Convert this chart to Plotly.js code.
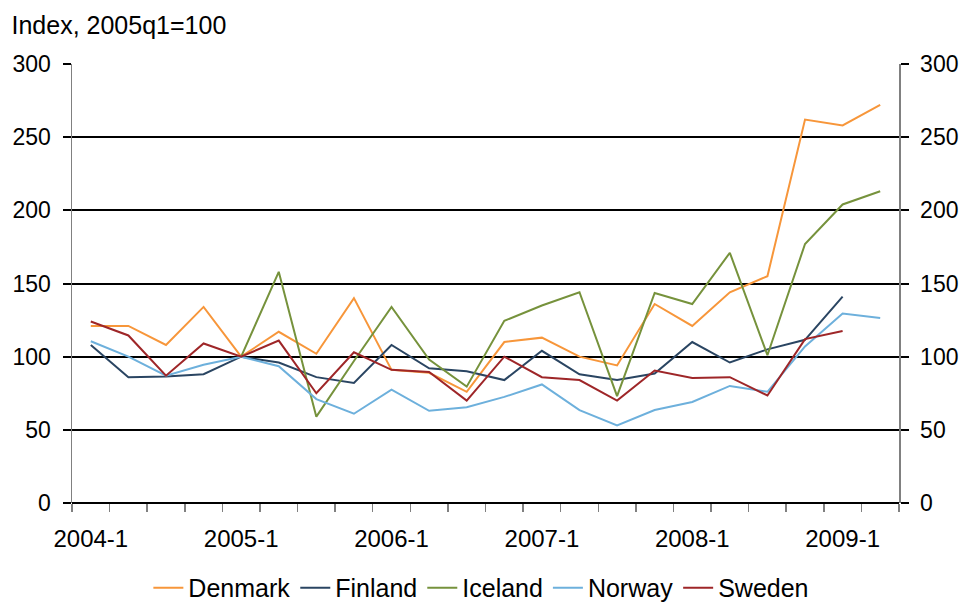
<!DOCTYPE html>
<html>
<head>
<meta charset="utf-8">
<script src="https://cdn.plot.ly/plotly-3.0.1.min.js"></script>
<style>html,body{margin:0;padding:0;background:#fff;}#chart{width:960px;height:603px;}</style>
</head>
<body>
<div id="chart"></div>
<script>
const quarters = ["2004-1","2004-2","2004-3","2004-4","2005-1","2005-2","2005-3","2005-4",
  "2006-1","2006-2","2006-3","2006-4","2007-1","2007-2","2007-3","2007-4",
  "2008-1","2008-2","2008-3","2008-4","2009-1","2009-2"];
const denmark = [121,121,108,134,100,117,102,140,91,89,76,110,113,100,94,136,121,144,155,262,258,272];
const finland = [108,86,86.5,88,100,96,86,82,108,92,90,84,104,88,84,88.5,110,96,105,111.5,141,null];
const iceland = [null,null,null,null,100,158,59,97,134,98,79.5,124.5,135,144,73,143.5,136,171,101,177,204,213];
const norway  = [110.5,100,87,94.5,100,93.5,71,61,77.5,63,65.5,72.5,81,63.5,53,63.5,69,80,76,107,129.5,126.5];
const sweden  = [124,114.5,87,109,100,111,75,103,91,89.5,70,100,86,84,70,90.5,85.5,86,73.5,112,117.5,null];

const names = ["Denmark","Finland","Iceland","Norway","Sweden"];
const series = [denmark, finland, iceland, norway, sweden];
const colors = ["#F7963A","#2A4562","#76923C","#6DB0DC","#9E2628"];

const FONT = "Liberation Sans, Arial, sans-serif";
const traces = series.map((s,i)=>({
  x: quarters, y: s, name: names[i], type: "scatter", mode: "lines",
  line: {color: colors[i], width: 2}, connectgaps: false
}));
traces.push({x: quarters, y: [], yaxis: "y2", showlegend: false, hoverinfo: "skip", type: "scatter", mode: "lines"});

const yCommon = {
  range: [0,300], dtick: 50, tick0: 0, tickmode: "linear",
  showgrid: true, gridcolor: "#000", gridwidth: 2,
  zeroline: true, zerolinecolor: "#000", zerolinewidth: 2,
  showline: true, linecolor: "#808080", linewidth: 1.5,
  ticks: "outside", ticklen: 8, tickwidth: 2, tickcolor: "#000",
  ticklabelstandoff: 7,
  tickfont: {family: FONT, size: 23, color: "#000"}, fixedrange: true
};

const layout = {
  width: 960, height: 603,
  margin: {l: 72, r: 61, t: 64, b: 100},
  paper_bgcolor: "#fff", plot_bgcolor: "#fff",
  font: {family: FONT, color: "#000"},
  title: {text: "Index, 2005q1=100", xref: "container", yref: "container",
    x: 0.012, xanchor: "left", y: 0.958, yanchor: "middle",
    font: {family: FONT, size: 25, color: "#000"}},
  xaxis: {
    type: "category", range: [-0.5, 21.5], tickmode: "linear", dtick: 1, tick0: 0,
    tickson: "boundaries", ticklabelstep: 4, tickangle: 0,
    ticks: "outside", ticklen: 8, tickwidth: 1.5, tickcolor: "#808080",
    showgrid: false, showline: false, zeroline: false,
    ticklabelstandoff: 19,
    tickfont: {family: FONT, size: 24, color: "#000"}, fixedrange: true
  },
  yaxis: Object.assign({}, yCommon),
  yaxis2: Object.assign({}, yCommon, {overlaying: "y", side: "right", showgrid: false, zeroline: false}),
  showlegend: true,
  legend: {orientation: "h", xref: "paper", yref: "container", x: 0.495, xanchor: "center",
    y: 0.025, yanchor: "middle", font: {family: FONT, size: 25, color: "#000"},
    itemwidth: 30, tracegroupgap: 0, bgcolor: "rgba(0,0,0,0)"}
};

Plotly.newPlot("chart", traces, layout, {staticPlot: true, displayModeBar: false});
</script>
</body>
</html>
